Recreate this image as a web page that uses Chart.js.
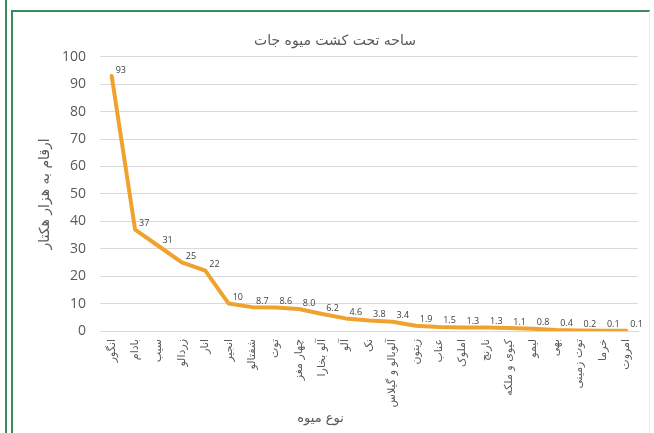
<!DOCTYPE html>
<html>
<head>
<meta charset="utf-8">
<script src="https://cdn.jsdelivr.net/npm/chart.js@4.4.1/dist/chart.umd.min.js"></script>
<style>
    html, body { margin: 0; padding: 0; background: #fff; }
    body { width: 654px; height: 433px; position: relative; overflow: hidden; }
    .outer-line { position: absolute; left: 5px; top: 0; width: 0; height: 433px; border-left: 2px solid #3a8a5e; }
    .frame { position: absolute; left: 11px; top: 10px; width: 636px; height: 440px;
             border-left: 2px solid #3a8a5e; border-top: 2px solid #3a8a5e; border-right: 1px solid #ececec; }
    #chart-wrap { position: absolute; left: 0; top: 0; width: 654px; height: 433px; }
</style>
</head>
<body>
<div class="outer-line"></div>
<div class="frame"></div>
<div id="chart-wrap"><canvas id="fruit-chart"></canvas></div>
<script>
// Fruit cultivation area (thousand hectares)
const chartTitle = 'ساحه تحت کشت میوه جات';
const yAxisTitle = 'ارقام به هزار هکتار';
const xAxisTitle = 'نوع میوه';

const fruitNames = [
    'انگور', 'بادام', 'سیب', 'زردالو', 'انار', 'انجیر', 'شفتالو', 'توت',
    'چهار مغز', 'آلو بخارا', 'آلو', 'نک', 'آلوبالو و گیلاس', 'زیتون', 'عناب',
    'املوک', 'نارنج', 'کیوی و ملکه', 'لیمو', 'بهی', 'توت زمینی', 'خرما', 'امروت'
];
const areaValues = [93, 37, 31, 25, 22, 10, 8.7, 8.6, 8.0, 6.2, 4.6, 3.8, 3.4, 1.9, 1.5, 1.3, 1.3, 1.1, 0.8, 0.4, 0.2, 0.1, 0.1];
const areaLabels = ['93', '37', '31', '25', '22', '10', '8.7', '8.6', '8.0', '6.2', '4.6', '3.8', '3.4', '1.9', '1.5', '1.3', '1.3', '1.1', '0.8', '0.4', '0.2', '0.1', '0.1'];
const yTicks = [0, 10, 20, 30, 40, 50, 60, 70, 80, 90, 100];

const textColor = '#595959';
const gridColor = '#d9d9d9';
const lineColor = '#f0a22e';

// draws value labels next to each point + the x axis title
const labelPlugin = {
    id: 'valueLabels',
    afterDatasetsDraw(chart) {
        const ctx = chart.ctx;
        const meta = chart.getDatasetMeta(0);
        ctx.save();
        ctx.font = '9px "Open Sans", sans-serif';
        ctx.fillStyle = '#404040';
        ctx.textAlign = 'left';
        ctx.textBaseline = 'middle';
        meta.data.forEach((pt, i) => {
            ctx.fillText(areaLabels[i], pt.x + 4, pt.y - 6);
        });

        const area = chart.chartArea;
        ctx.font = '13px "DejaVu Sans", sans-serif';
        ctx.fillStyle = textColor;
        ctx.textAlign = 'center';
        ctx.fillText(xAxisTitle, area.left + (area.right - area.left) * 0.41, 419);
        ctx.restore();
    }
};

new Chart(document.getElementById('fruit-chart'), {
    type: 'line',
    data: {
        labels: fruitNames,
        datasets: [{
            data: areaValues,
            borderColor: lineColor,
            borderWidth: 4,
            borderJoinStyle: 'round',
            borderCapStyle: 'round',
            pointRadius: 0,
            tension: 0,
            fill: false
        }]
    },
    options: {
        responsive: true,
        maintainAspectRatio: false,
        animation: false,
        layout: {
            padding: { left: 32, right: 16, top: 33, bottom: 0 }
        },
        plugins: {
            legend: { display: false },
            tooltip: { enabled: false },
            title: {
                display: true,
                text: chartTitle,
                color: textColor,
                font: { family: 'DejaVu Sans', size: 14, weight: 'normal' },
                padding: { top: 0, bottom: 7 }
            }
        },
        scales: {
            x: {
                offset: true,
                grid: { display: false, drawTicks: false },
                border: { display: true, color: gridColor },
                ticks: {
                    color: textColor,
                    font: { family: 'DejaVu Sans', size: 11 },
                    minRotation: 90,
                    maxRotation: 90,
                    autoSkip: false,
                    padding: 8
                },
                afterFit(scale) { scale.height = 102; }
            },
            y: {
                min: 0,
                max: 100,
                afterBuildTicks(scale) { scale.ticks = yTicks.map(v => ({ value: v })); },
                grid: { color: gridColor, drawTicks: false },
                border: { display: false },
                ticks: {
                    color: textColor,
                    font: { family: 'Open Sans', size: 14 },
                    padding: 14
                },
                title: {
                    display: true,
                    text: yAxisTitle,
                    color: textColor,
                    font: { family: 'DejaVu Sans', size: 14 },
                    padding: { top: 5, bottom: 0 }
                },
                afterFit(scale) { scale.width = 68; }
            }
        }
    },
    plugins: [labelPlugin]
});
</script>
</body>
</html>
